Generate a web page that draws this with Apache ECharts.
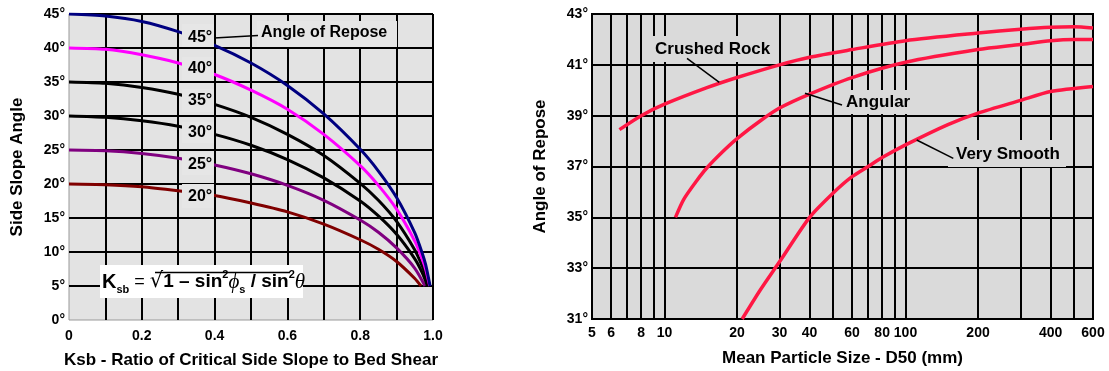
<!DOCTYPE html>
<html>
<head>
<meta charset="utf-8">
<script src="https://cdn.jsdelivr.net/npm/echarts@6/dist/echarts.min.js"></script>
<style>
html,body{margin:0;padding:0;background:#fff}
#main{width:1109px;height:371px}
</style>
</head>
<body>
<div id="main"></div>
<script>
// left panel: side slope angle against Ksb, one curve per angle of repose
var repose45 = [[0,45],[0.1,44.7],[0.2,43.9],[0.3,42.4],[0.4,40.4],[0.5,37.8],[0.6,34.5],[0.7,30.3],[0.8,25.1],[0.85,21.9],[0.9,18],[0.95,12.8],[0.97,9.9],[0.98,8.1],[0.992,5]];
var repose40 = [[0,40],[0.1,39.8],[0.2,39],[0.3,37.8],[0.4,36.1],[0.5,33.8],[0.6,31],[0.7,27.3],[0.8,22.7],[0.85,19.8],[0.9,16.3],[0.95,11.6],[0.97,9],[0.98,7.4],[0.991,5]];
var repose35 = [[0,35],[0.1,34.8],[0.2,34.2],[0.3,33.2],[0.4,31.7],[0.5,29.8],[0.6,27.3],[0.7,24.2],[0.8,20.1],[0.85,17.6],[0.9,14.5],[0.95,10.3],[0.97,8],[0.98,6.6],[0.988,5]];
var repose30 = [[0,30],[0.1,29.8],[0.2,29.3],[0.3,28.5],[0.4,27.3],[0.5,25.7],[0.6,23.6],[0.7,20.9],[0.8,17.5],[0.85,15.3],[0.9,12.6],[0.95,9],[0.97,7],[0.985,5]];
var repose25 = [[0,25],[0.1,24.9],[0.2,24.5],[0.3,23.8],[0.4,22.8],[0.5,21.5],[0.6,19.8],[0.7,17.6],[0.8,14.7],[0.85,12.9],[0.9,10.6],[0.95,7.6],[0.978,5]];
var repose20 = [[0,20],[0.1,19.9],[0.2,19.6],[0.3,19],[0.4,18.3],[0.5,17.2],[0.6,15.9],[0.7,14.1],[0.8,11.8],[0.85,10.4],[0.9,8.6],[0.95,6.1],[0.967,5]];
var reposeLabels = ['45°','40°','35°','30°','25°','20°'];

// right panel: angle of repose against mean particle size (mm)
var crushedRock = [[6.5,38.45],[8,39],[10,39.45],[15,40.1],[20,40.5],[30,41],[40,41.3],[60,41.6],[100,41.95],[200,42.25],[300,42.4],[400,42.48],[500,42.5],[600,42.45]];
var angular = [[11.1,35],[12,35.7],[13.5,36.4],[15,36.95],[17.5,37.6],[20,38.1],[25,38.8],[30,39.3],[40,39.85],[60,40.5],[100,41.1],[200,41.6],[300,41.8],[400,41.95],[500,42],[600,42]];
var verySmooth = [[21,31],[25,32.15],[30,33.25],[40,35],[50,35.95],[60,36.6],[70,37],[80,37.35],[100,37.85],[150,38.65],[200,39.1],[300,39.6],[400,39.95],[600,40.15]];
var sizeTicks = [5,6,7,8,9,10,20,30,40,50,60,70,80,90,100,200,300,400,500,600];
var sizeLabels = [5,6,8,10,20,30,40,60,80,100,200,400,600];

var FONT = 'Liberation Sans';
var chart = echarts.init(document.getElementById('main'));

function deg(v){ return v + '°'; }
var tickFont = {color:'#000', fontSize:14, fontWeight:'bold', fontFamily:FONT};
var nameFont = {color:'#000', fontSize:17, fontWeight:'bold', fontFamily:FONT};
var grid = {lineStyle:{color:'#000', width:2}};

function curve(name, data, color, xi, w){
  return {name:name, type:'line', data:data, xAxisIndex:xi, yAxisIndex:xi,
    showSymbol:false, smooth:0.25, silent:true, z:3,
    lineStyle:{color:color, width:w}};
}

// label boxes sit over the curves like in the drawing
function box(x, y, w, h, fill){
  return {type:'rect', shape:{x:x, y:y, width:w, height:h}, style:{fill:fill}, z:100, silent:true};
}
function txt(x, y, s, size){
  return {type:'text', x:x, y:y, z:101, silent:true,
    style:{text:s, fill:'#000', font:'bold ' + size + 'px "' + FONT + '"', verticalAlign:'middle'}};
}
function leader(x1, y1, x2, y2){
  return {type:'line', z:101, silent:true, shape:{x1:x1, y1:y1, x2:x2, y2:y2}, style:{stroke:'#000', lineWidth:1.5}};
}

var leftBg = '#e3e3e3', rightBg = '#dadada';
// [top, bottom, text centre] of each angle tag
var tagRows = [[24, 47, 38], [57, 81, 69], [89, 112, 101], [122, 143, 133], [152, 175, 165], [184, 208, 197]];
var graphics = [];
tagRows.forEach(function(r, i){
  graphics.push(box(182, r[0], 32, r[1] - r[0], '#e6e6e6'));
  graphics.push(txt(188, r[2], reposeLabels[i], 16));
});
graphics.push(leader(214, 38, 258, 35.5));
graphics.push(box(257, 21, 140, 26, '#e6e6e6'));
graphics.push(txt(261, 33, 'Angle of Repose', 16));

// Ksb formula
graphics.push(box(100, 265, 203, 33, '#fff'));
graphics.push({type:'text', x:102, y:282, z:101, silent:true, style:{
  text:'{k|K}{sub|sb}{op| = }{rad|√}{b|1 – sin}{sup|2}{it|ϕ}{sub|s}{b| / sin}{sup|2}{it|θ}',
  verticalAlign:'middle',
  rich:{
    k:{fontSize:20, fontWeight:'bold', fontFamily:FONT, lineHeight:26},
    b:{fontSize:19, fontWeight:'bold', fontFamily:FONT, lineHeight:26},
    op:{fontSize:18, fontFamily:FONT, lineHeight:26},
    rad:{fontSize:21, fontFamily:'DejaVu Sans', lineHeight:26},
    sub:{fontSize:11, fontWeight:'bold', fontFamily:FONT, verticalAlign:'bottom', lineHeight:14},
    sup:{fontSize:11, fontWeight:'bold', fontFamily:FONT, verticalAlign:'top', lineHeight:14},
    it:{fontSize:21, fontStyle:'italic', fontFamily:'Liberation Serif', lineHeight:26}
  }}});
graphics.push({type:'line', z:101, silent:true, shape:{x1:155, y1:272.5, x2:290, y2:272.5}, style:{stroke:'#000', lineWidth:1.5}});

// right panel labels
graphics.push(leader(687, 58.3, 719.3, 82.3));
graphics.push(box(650, 36, 127, 26, rightBg));
graphics.push(txt(655, 49, 'Crushed Rock', 17));
graphics.push(leader(805, 93.3, 842, 105));
graphics.push(box(838, 90, 79, 24, rightBg));
graphics.push(txt(846, 102, 'Angular', 17));
graphics.push(leader(916.7, 140, 953.3, 158.3));
graphics.push(box(948, 140, 118, 27, rightBg));
graphics.push(txt(956, 154, 'Very Smooth', 17));

var option = {
  animation:false,
  grid:[
    {left:69, top:14, width:364, height:306, outerBoundsMode:'none', show:true, backgroundColor:leftBg, borderColor:'#999', borderWidth:1},
    {left:592, top:14, width:501, height:305, outerBoundsMode:'none', show:true, backgroundColor:rightBg, borderColor:'#000', borderWidth:2}
  ],
  xAxis:[
    {gridIndex:0, type:'value', min:0, max:1, interval:0.1,
      name:'Ksb - Ratio of Critical Side Slope to Bed Shear', nameLocation:'middle', nameGap:32, nameTextStyle:nameFont,
      axisLine:{show:false}, axisTick:{show:false},
      axisLabel:Object.assign({margin:9, formatter:function(v){
        var t = Math.round(v * 10);
        if (t % 2) return '';
        return t === 0 ? '0' : t === 10 ? '1.0' : (t / 10).toFixed(1);
      }}, tickFont),
      splitLine:Object.assign({showMinLine:false}, grid)},
    {gridIndex:1, type:'log', min:5, max:600, logBase:10,
      name:'Mean Particle Size - D50 (mm)', nameLocation:'middle', nameGap:31, nameTextStyle:nameFont,
      axisLine:{show:false}, axisTick:{show:false, customValues:sizeTicks},
      axisLabel:Object.assign({margin:7, customValues:sizeLabels, formatter:function(v){ return String(v); }}, tickFont),
      splitLine:grid}
  ],
  yAxis:[
    {gridIndex:0, type:'value', min:0, max:45, interval:5,
      name:'Side Slope Angle', nameLocation:'middle', nameGap:43, nameTextStyle:nameFont,
      axisLine:{show:false}, axisTick:{show:false},
      axisLabel:Object.assign({margin:4, formatter:deg}, tickFont),
      splitLine:Object.assign({showMinLine:false}, grid)},
    {gridIndex:1, type:'value', min:31, max:43, interval:2,
      name:'Angle of Repose', nameLocation:'middle', nameGap:43, nameTextStyle:nameFont,
      axisLine:{show:false}, axisTick:{show:false},
      axisLabel:Object.assign({margin:4, formatter:deg}, tickFont),
      splitLine:grid}
  ],
  series:[
    curve('20°', repose20, '#800000', 0, 3),
    curve('25°', repose25, '#800080', 0, 3),
    curve('30°', repose30, '#000000', 0, 3),
    curve('35°', repose35, '#000000', 0, 3),
    curve('40°', repose40, '#ff00ff', 0, 3),
    curve('45°', repose45, '#000080', 0, 3),
    curve('Crushed Rock', crushedRock, '#ff1744', 1, 3.5),
    curve('Angular', angular, '#ff1744', 1, 3.5),
    curve('Very Smooth', verySmooth, '#ff1744', 1, 3.5)
  ],
  graphic:graphics
};
chart.setOption(option);
</script>
</body>
</html>
